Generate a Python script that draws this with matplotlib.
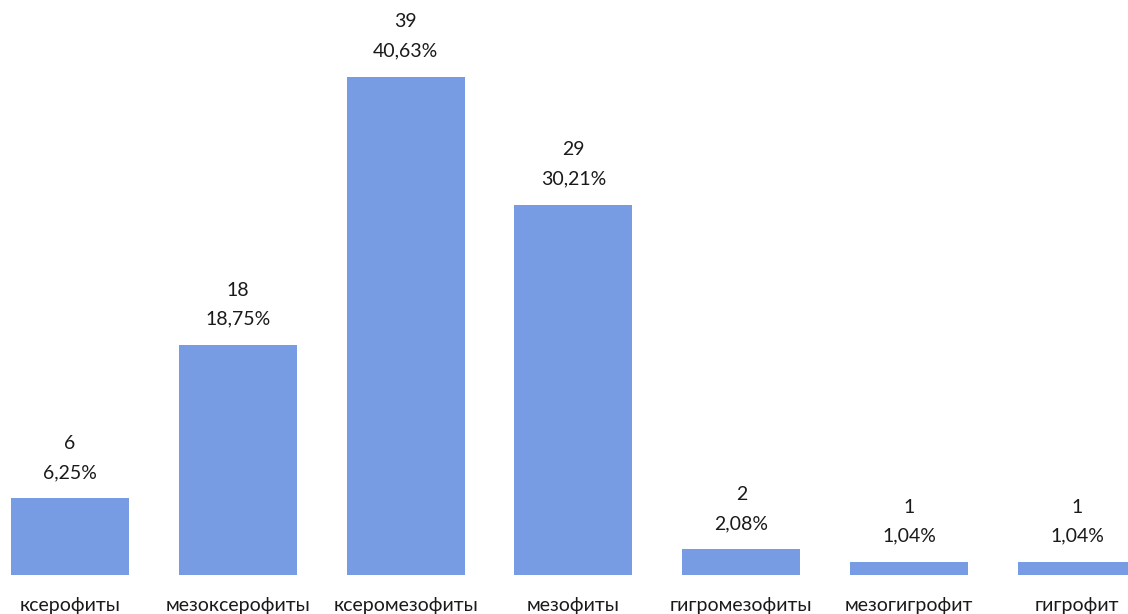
import matplotlib
matplotlib.use("Agg")
import matplotlib.pyplot as plt

categories = ["ксерофиты", "мезоксерофиты", "ксеромезофиты", "мезофиты",
              "гигромезофиты", "мезогигрофит", "гигрофит"]
counts = [6, 18, 39, 29, 2, 1, 1]
percents = ["6,25%", "18,75%", "40,63%", "30,21%", "2,08%", "1,04%", "1,04%"]

plt.rcParams['font.family'] = ['Lato', 'DejaVu Sans']

fig = plt.figure(figsize=(11.28, 6.14), dpi=100)
ax = fig.add_axes([0, 39 / 614, 1, 575 / 614])

x = list(range(len(categories)))
bars = ax.bar(x, counts, width=0.703, color="#789CE3")

ax.set_xlim(-0.417, 6.304)
ax.set_ylim(0, 45.03)

for xi, c, p in zip(x, counts, percents):
    ax.annotate(p, (xi, c), xytext=(0, 26), textcoords="offset pixels",
                ha="center", va="center", fontsize=14, color="#1a1a1a")
    ax.annotate(str(c), (xi, c), xytext=(0, 55), textcoords="offset pixels",
                ha="center", va="center", fontsize=14, color="#1a1a1a")
    ax.annotate(categories[xi], (xi, 0), xytext=(0, -30), textcoords="offset pixels",
                ha="center", va="center", fontsize=14, color="#1a1a1a",
                annotation_clip=False)

ax.set_xticks([])
ax.set_yticks([])
for s in ax.spines.values():
    s.set_visible(False)

fig.savefig("out.png", dpi=100)
